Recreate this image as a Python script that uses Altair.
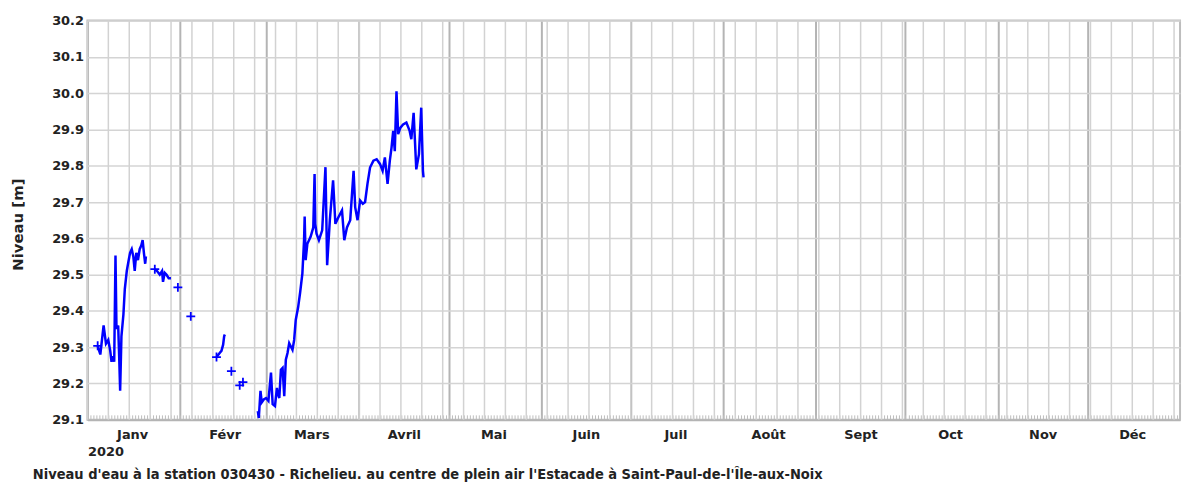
import altair as alt
import pandas as pd

# ---- data (day offsets from 2020-01-01, water level in m) ----
seg_a_days = [3.42, 4.31, 5.41, 6.20, 6.97, 7.63, 8.06, 8.63, 8.96, 9.39, 9.72, 10.29, 10.62,
              10.95, 11.38, 12.04, 12.51, 13.17, 13.70, 14.27, 14.83, 15.36, 15.83, 16.36,
              16.92, 17.49, 18.02, 18.48, 18.91, 19.34, 19.58]
seg_a_vals = [29.304, 29.28, 29.36, 29.31, 29.32, 29.29, 29.26, 29.275, 29.26, 29.553, 29.35,
              29.36, 29.275, 29.18, 29.33, 29.39, 29.46, 29.51, 29.535, 29.56, 29.57, 29.55,
              29.51, 29.56, 29.54, 29.57, 29.58, 29.595, 29.56, 29.53, 29.55]

seg_b_days = [22.56, 23.32, 24.22, 24.98, 25.31, 25.88, 26.44, 27.21, 27.97]
seg_b_vals = [29.515, 29.51, 29.50, 29.51, 29.48, 29.505, 29.50, 29.49, 29.49]

seg_c_days = [43.23, 44.36, 44.89, 45.45, 45.79, 46.02]
seg_c_vals = [29.273, 29.285, 29.29, 29.307, 29.33, 29.335]

seg_d_days = [57.07, 57.40, 57.96, 58.39, 59.06, 59.82, 60.62, 61.48, 62.04, 62.81, 63.47,
              63.70, 64.27, 64.80, 65.36, 65.92, 66.45, 67.02, 67.58, 68.68, 69.24, 69.77,
              70.57, 71.23, 71.99, 72.56, 72.76, 73.09, 73.66, 74.75, 75.65, 76.08, 76.31,
              76.74, 77.54, 78.63, 79.73, 80.29, 81.19, 82.28, 83.05, 84.18, 85.27, 86.03,
              86.93, 88.02, 89.15, 89.68, 90.48, 91.34, 92.24, 93.00, 93.80, 94.66, 95.79,
              96.88, 97.98, 98.87, 99.63, 100.53, 101.29, 101.86, 102.42, 102.95, 103.52,
              104.08, 104.84, 105.74, 106.83, 107.93, 108.49, 109.26, 110.15, 111.05,
              111.81, 112.38, 112.58]
seg_d_vals = [29.124, 29.105, 29.18, 29.148, 29.156, 29.16, 29.152, 29.23, 29.143, 29.138,
              29.188, 29.174, 29.16, 29.238, 29.243, 29.165, 29.266, 29.284, 29.311, 29.293,
              29.32, 29.375, 29.41, 29.45, 29.503, 29.595, 29.66, 29.54, 29.585, 29.604,
              29.63, 29.777, 29.64, 29.613, 29.595, 29.622, 29.796, 29.526, 29.65, 29.76,
              29.64, 29.66, 29.677, 29.595, 29.63, 29.65, 29.786, 29.686, 29.65, 29.704,
              29.695, 29.70, 29.75, 29.795, 29.814, 29.818, 29.805, 29.786, 29.823, 29.75,
              29.814, 29.85, 29.896, 29.84, 30.005, 29.887, 29.905, 29.914, 29.919, 29.896,
              29.873, 29.946, 29.79, 29.832, 29.96, 29.786, 29.768]

cross_days = [3.42, 22.56, 30.29, 34.61, 43.23, 48.21, 51.00, 52.09]
cross_vals = [29.304, 29.515, 29.465, 29.385, 29.273, 29.234, 29.195, 29.204]

y_ticks = [29.1, 29.2, 29.3, 29.4, 29.5, 29.6, 29.7, 29.8, 29.9, 30.0, 30.1, 30.2]
month_names = ["Janv", "Févr", "Mars", "Avril", "Mai", "Juin", "Juil", "Août",
               "Sept", "Oct", "Nov", "Déc"]
year_label = "2020"
title_text = ("Niveau d'eau à la station 030430 - Richelieu. au centre de plein air "
              "l'Estacade à Saint-Paul-de-l'Île-aux-Noix")

START = pd.Timestamp("2020-01-01")


def to_time(days):
    ts = START + pd.to_timedelta(pd.Series(days), unit="D")
    return ts.dt.strftime("%Y-%m-%dT%H:%M:%S")


frames = []
for name, d, v in [("A", seg_a_days, seg_a_vals), ("B", seg_b_days, seg_b_vals),
                   ("C", seg_c_days, seg_c_vals), ("D", seg_d_days, seg_d_vals)]:
    frames.append(pd.DataFrame({"t": to_time(d), "v": v, "seg": name}))
line_df = pd.concat(frames, ignore_index=True)
cross_df = pd.DataFrame({"t": to_time(cross_days), "v": cross_vals})

weekly = pd.date_range("2020-01-01", "2020-12-31", freq="7D")
weekly_df = pd.DataFrame({"t": weekly.strftime("%Y-%m-%dT00:00:00")})
daily = pd.date_range("2020-01-01", "2020-12-31", freq="D")
daily_vals = [alt.DateTime(year=int(d.year), month=int(d.month), date=int(d.day)) for d in daily]
month_vals = [alt.DateTime(year=2020, month=m, date=1) for m in range(1, 13)]

xscale = alt.Scale(domain=[alt.DateTime(year=2020, month=1, date=1),
                           alt.DateTime(year=2021, month=1, date=1)])

FONT = "DejaVu Sans"
names_js = "[" + ",".join("'" + n + "'" for n in month_names) + "]"

y_enc = alt.Y("v:Q", scale=alt.Scale(domain=[29.1, 30.2], nice=False, zero=False),
              axis=alt.Axis(values=y_ticks, format=".1f", grid=True, gridColor="#d4d4d4",
                            gridWidth=1.5, ticks=False, domain=False, labelFont=FONT,
                            labelFontWeight="bold", labelFontSize=13, labelColor="#222",
                            labelPadding=4, title="Niveau [m]", titleFont=FONT,
                            titleFontSize=15, titleFontWeight="bold", titleColor="#222",
                            titleX=-70, titleY=205, titleAngle=-90, titleBaseline="middle",
                            titleAlign="center"))

# weekly gridlines + daily minor ticks
week_layer = alt.Chart(weekly_df).mark_rule(color="#d2d2d2", strokeWidth=1.5).encode(
    x=alt.X("t:T", scale=xscale,
            axis=alt.Axis(orient="bottom", values=daily_vals, grid=False, labels=False,
                          ticks=True, tickSize=5, tickColor="#bdbdbd", tickWidth=1,
                          domain=False, offset=-5, title=None))
)

line_layer = alt.Chart(line_df).mark_line(color="#0000ff", strokeWidth=2.5).encode(
    x=alt.X("t:T", scale=xscale,
            axis=alt.Axis(orient="bottom", values=month_vals, grid=True,
                          gridColor="#b4b4b4", gridWidth=2, ticks=False, domain=True,
                          domainColor="#b4b4b4", domainWidth=2,
                          labelExpr=names_js + "[month(datum.value)]",
                          labelOffset=45, labelFlush=False, labelOverlap=False,
                          labelBound=False, labelPadding=9, labelFont=FONT,
                          labelFontWeight="bold", labelFontSize=13, labelColor="#222",
                          title=year_label, titleAnchor="start", titleAlign="left",
                          titleFont=FONT, titleFontWeight="bold", titleFontSize=13,
                          titleColor="#222", titlePadding=4)),
    y=y_enc,
    detail="seg:N",
)

cross_layer = alt.Chart(cross_df).mark_point(
    shape="M-1,0L1,0M0,-1L0,1", size=80, filled=False, color="#0000ff",
    strokeWidth=1.8, opacity=1
).encode(
    x=alt.X("t:T", scale=xscale, axis=None),
    y=y_enc,
)

chart = alt.layer(week_layer, line_layer, cross_layer).resolve_axis(
    x="independent"
).properties(
    width=1100,
    height=402,
    autosize=alt.AutoSizeParams(type="none"),
    padding={"left": 80, "top": 11, "right": 6, "bottom": 66},
    title=alt.TitleParams(title_text, orient="bottom", anchor="start", frame="group",
                          dx=-55, offset=9,
                          font="Liberation Sans Narrow, DejaVu Sans Condensed, Liberation Sans",
                          fontSize=14.6, fontWeight="bold", color="#222"),
    background="white",
).configure_view(stroke="#bdbdbd", strokeWidth=2)

chart.save("out.html", embed_options={"renderer": "svg", "actions": False})
